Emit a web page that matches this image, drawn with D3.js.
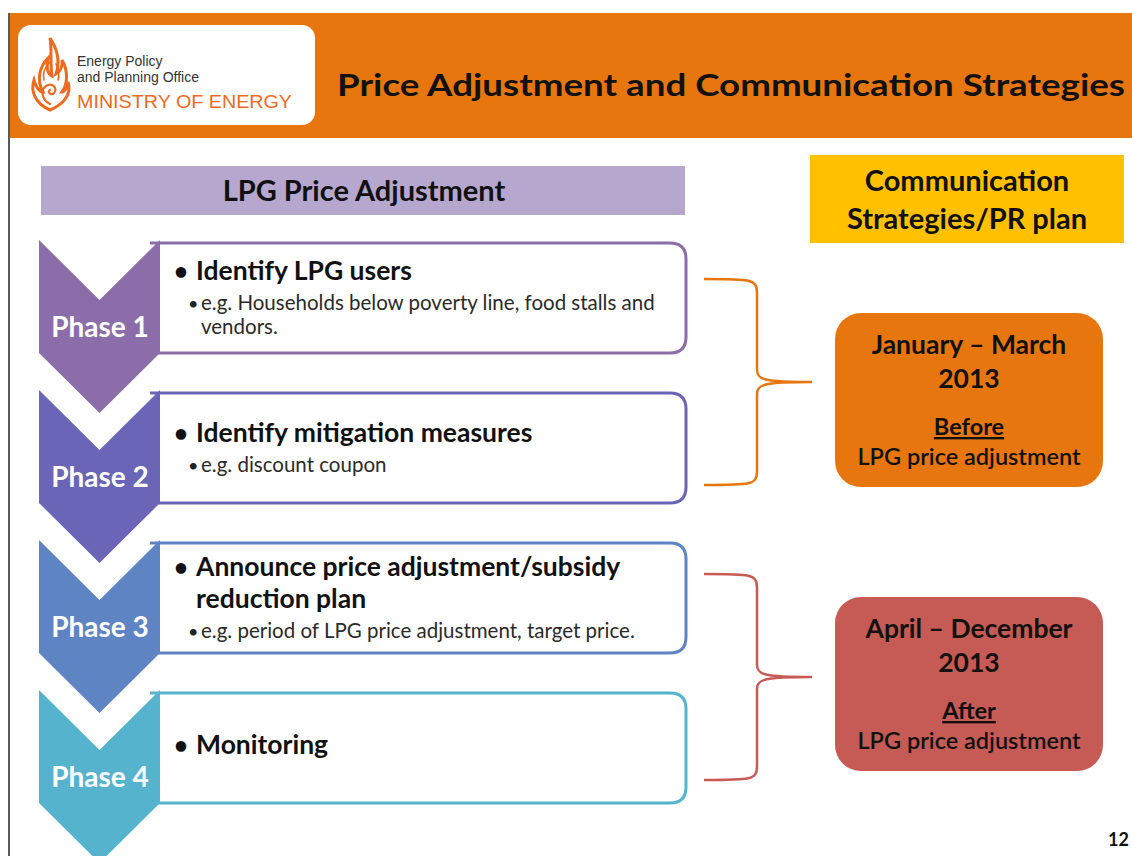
<!DOCTYPE html>
<html>
<head>
<meta charset="utf-8">
<script src="https://cdn.jsdelivr.net/npm/d3@7"></script>
<style>
  html, body { margin: 0; padding: 0; background: #fff; }
  svg { display: block; }
  text { font-family: Lato, "Open Sans", sans-serif; }
</style>
</head>
<body>
<div id="chart"></div>
<script>
// ---- dados do slide ----
const phases = ['Phase 1', 'Phase 2', 'Phase 3', 'Phase 4'];
const phaseColors = ['#8B6EA9', '#6A65B6', '#5E84C4', '#56B3CD'];
const mainBullets = [
  ['Identify LPG users'],
  ['Identify mitigation measures'],
  ['Announce price adjustment/subsidy', 'reduction plan'],
  ['Monitoring'],
];
const subBullets = [
  ['e.g. Households below poverty line, food stalls and', 'vendors.'],
  ['e.g. discount coupon'],
  ['e.g. period of LPG price adjustment, target price.'],
  [],
];
const periods = ['January \u2013 March', 'April \u2013 December'];
const periodYear = ['2013', '2013'];
const periodWhen = ['Before', 'After'];
const periodSpan = [[0, 1], [2, 3]]; // fases cobertas por cada chave
const periodColors = ['#E8760F', '#C65A54'];

const W = 1132, H = 856;
const svg = d3.select('#chart').append('svg').attr('width', W).attr('height', H);

// ---- cabecalho ----
svg.append('rect').attr('x', 9).attr('y', 13).attr('width', W - 9).attr('height', 125).attr('fill', '#E8760F');
svg.append('line').attr('x1', 9).attr('x2', 9).attr('y1', 13).attr('y2', H)
  .attr('stroke', '#5a5a5a').attr('stroke-width', 2);

svg.append('rect').attr('x', 18).attr('y', 25).attr('width', 297).attr('height', 100)
  .attr('rx', 13).attr('fill', '#fff');

// chama do logo (desenho simplificado)
const flame = svg.append('g').attr('fill', 'none').attr('stroke', '#EE6A1E').attr('stroke-linecap', 'round');
flame.append('path').attr('stroke-width', 3)
  .attr('d', 'M50,110 C36,104 30,92 34,80 C36,88 40,92 43,92 C36,80 40,66 48,58 C46,68 48,74 52,76 C50,62 52,50 50,38 C58,50 60,62 56,74 C60,72 63,66 62,60 C68,70 68,84 62,92 C64,92 68,88 68,82 C72,94 64,104 50,110 Z');
flame.append('path').attr('stroke-width', 2.2)
  .attr('d', 'M50,104 C42,100 40,90 46,86 C52,82 58,88 54,93 C51,96 47,92 50,90');
flame.append('path').attr('stroke-width', 1.6)
  .attr('d', 'M44,80 C42,72 46,66 50,62 M58,80 C60,74 58,68 56,64');

const LOGO_FONT = '"Liberation Sans", Arial, sans-serif';
svg.append('text').attr('x', 77).attr('y', 66).attr('font-size', 14).attr('fill', '#333')
  .style('font-family', LOGO_FONT).text('Energy Policy');
svg.append('text').attr('x', 77).attr('y', 82).attr('font-size', 14).attr('fill', '#333')
  .style('font-family', LOGO_FONT).text('and Planning Office');
svg.append('text').attr('x', 77).attr('y', 108).attr('font-size', 18).attr('fill', '#EE6A1E')
  .attr('textLength', 215).attr('lengthAdjust', 'spacingAndGlyphs')
  .style('font-family', LOGO_FONT).text('MINISTRY OF ENERGY');

svg.append('text').attr('x', 337).attr('y', 96).attr('font-size', 31).attr('font-weight', 700)
  .attr('fill', '#111').attr('textLength', 788).attr('lengthAdjust', 'spacingAndGlyphs')
  .text('Price Adjustment and Communication Strategies');

// ---- barras de titulo ----
svg.append('rect').attr('x', 41).attr('y', 166).attr('width', 644).attr('height', 49).attr('fill', '#B6A7CE');
svg.append('text').attr('x', 364).attr('y', 201).attr('text-anchor', 'middle')
  .attr('font-size', 29).attr('font-weight', 700).attr('fill', '#111').text('LPG Price Adjustment');

svg.append('rect').attr('x', 810).attr('y', 155).attr('width', 314).attr('height', 88).attr('fill', '#FFC000');
svg.append('text').attr('x', 967).attr('y', 191).attr('text-anchor', 'middle')
  .attr('font-size', 29).attr('font-weight', 700).attr('fill', '#111').text('Communication');
svg.append('text').attr('x', 967).attr('y', 229).attr('text-anchor', 'middle')
  .attr('font-size', 29).attr('font-weight', 700).attr('fill', '#111').text('Strategies/PR plan');

// ---- fases ----
const y = d3.scaleBand().domain(phases).range([240, 840]).paddingInner(0);
const cx0 = 39, cx1 = 160, notch = 60, side = 113;
const boxR = 686;

const phaseG = svg.selectAll('g.phase').data(phases).join('g').attr('class', 'phase')
  .attr('transform', (d) => `translate(0,${y(d)})`);

// caixa de conteudo (atras da seta)
phaseG.append('path')
  .attr('fill', '#fff')
  .attr('stroke', (d, i) => phaseColors[i]).attr('stroke-width', 3)
  .attr('d', () => {
    const x0 = 150, x1 = boxR, t = 3, b = side, r = 16;
    return `M${x0},${t} L${x1 - r},${t} Q${x1},${t} ${x1},${t + r} L${x1},${b - r} Q${x1},${b} ${x1 - r},${b} L${x0},${b}`;
  });

// seta chevron
phaseG.append('path')
  .attr('fill', (d, i) => phaseColors[i])
  .attr('d', () => {
    const mx = (cx0 + cx1) / 2;
    return `M${cx0},0 L${mx},${notch} L${cx1},0 L${cx1},${side} L${mx},${side + notch} L${cx0},${side} Z`;
  });

phaseG.append('text').attr('x', (cx0 + cx1) / 2 + 0.5).attr('y', 97).attr('text-anchor', 'middle')
  .attr('font-size', 28).attr('font-weight', 700).attr('fill', '#fff').text((d) => d);

// textos com marcadores, centrados na vertical
const MAIN_H = 32, SUB_H = 24;
phaseG.each(function (d, i) {
  const g = d3.select(this);
  const mains = mainBullets[i], subs = subBullets[i];
  const total = mains.length * MAIN_H + subs.length * SUB_H;
  let yy = 58 - total / 2;
  mains.forEach((line, j) => {
    const base = yy + 22;
    if (j === 0) g.append('text').attr('x', 174).attr('y', base).attr('font-size', 24).attr('font-weight', 700).attr('fill', '#111').text('\u2022');
    g.append('text').attr('x', 196).attr('y', base).attr('font-size', 26.5).attr('font-weight', 700)
      .attr('fill', '#111').text(line);
    yy += MAIN_H;
  });
  subs.forEach((line, j) => {
    const base = yy + 20;
    if (j === 0) g.append('text').attr('x', 188).attr('y', base).attr('font-size', 18).attr('fill', '#222').text('\u2022');
    g.append('text').attr('x', 201).attr('y', base).attr('font-size', 20.5)
      .attr('fill', '#2a2a2a').text(line);
    yy += SUB_H;
  });
});

// ---- chaves e caixas de periodo ----
const bx0 = 704, bx1 = 757, bx2 = 812;
const braceTop = [39, 34], braceBot = [95, 90]; // recuo da chave dentro das fases
const boxTop = [313, 597];
periods.forEach((p, k) => {
  const [a, b] = periodSpan[k];
  const y0 = y(phases[a]) + braceTop[k], y1 = y(phases[b]) + braceBot[k];
  const ym = (y0 + y1) / 2;
  svg.append('path').attr('fill', 'none').attr('stroke', periodColors[k]).attr('stroke-width', 2.5)
    .attr('d', `M${bx0},${y0} C${bx1 - 6},${y0} ${bx1},${y0} ${bx1},${y0 + 14} L${bx1},${ym - 12} ` +
      `C${bx1},${ym - 2} ${bx1 + 8},${ym} ${bx2},${ym} C${bx1 + 8},${ym} ${bx1},${ym + 2} ${bx1},${ym + 12} ` +
      `L${bx1},${y1 - 14} C${bx1},${y1} ${bx1 - 6},${y1} ${bx0},${y1}`);

  const top = boxTop[k], cx = 969;
  svg.append('rect').attr('x', 835).attr('y', top).attr('width', 268).attr('height', 174)
    .attr('rx', 26).attr('fill', periodColors[k]);
  svg.append('text').attr('x', cx).attr('y', top + 41).attr('text-anchor', 'middle')
    .attr('font-size', 26.5).attr('font-weight', 700).attr('fill', '#111').text(p);
  svg.append('text').attr('x', cx).attr('y', top + 75).attr('text-anchor', 'middle')
    .attr('font-size', 26.5).attr('font-weight', 700).attr('fill', '#111').text(periodYear[k]);
  svg.append('text').attr('x', cx).attr('y', top + 122).attr('text-anchor', 'middle')
    .attr('font-size', 23.5).attr('font-weight', 700).attr('fill', '#111')
    .attr('text-decoration', 'underline').text(periodWhen[k]);
  svg.append('text').attr('x', cx).attr('y', top + 152).attr('text-anchor', 'middle')
    .attr('font-size', 23.5).attr('font-weight', 600).attr('fill', '#111').text('LPG price adjustment');
});

// numero do slide
svg.append('text').attr('x', 1129).attr('y', 846).attr('text-anchor', 'end')
  .attr('font-size', 18).attr('font-weight', 700).attr('fill', '#111').text('12');
</script>
</body>
</html>
